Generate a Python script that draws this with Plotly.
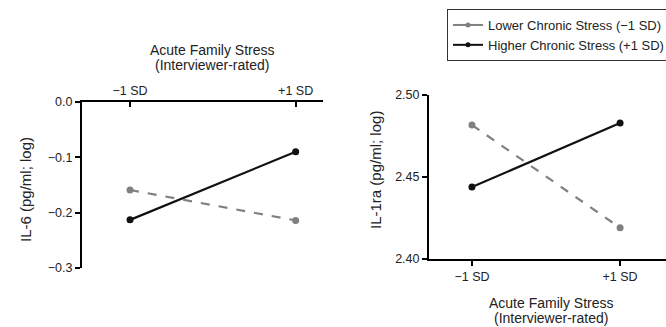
import plotly.graph_objects as go

x_levels = [-1, 1]
x_labels = ["\u22121 SD", "+1 SD"]
series_names = ["Lower Chronic Stress (\u22121 SD)", "Higher Chronic Stress (+1 SD)"]
il6_lower = [-0.159, -0.214]
il6_higher = [-0.213, -0.090]
il1ra_lower = [2.4817, 2.4190]
il1ra_higher = [2.4439, 2.4829]
il6_ticks = [0.0, -0.1, -0.2, -0.3]
il6_ticklabels = ["0.0", "\u22120.1", "\u22120.2", "\u22120.3"]
il1ra_ticks = [2.40, 2.45, 2.50]
il1ra_ticklabels = ["2.40", "2.45", "2.50"]
x_title_lines = ["Acute Family Stress", "(Interviewer-rated)"]
y_titles = ["IL-6 (pg/ml; log)", "IL-1ra (pg/ml; log)"]

W, H = 666, 327
FONT = "Liberation Sans, Arial, sans-serif"
GRAY = "#808080"
BLACK = "#111111"
TXT = "#222222"

def fx(px):
    return px / W

def fy(py):
    return 1 - py / H

fig = go.Figure()

styles = [dict(color=GRAY, dash="dash"), dict(color=BLACK, dash="solid")]

for i, (name, vals) in enumerate(zip(series_names, [il6_lower, il6_higher])):
    fig.add_trace(go.Scatter(
        x=x_levels, y=vals, mode="lines+markers", name=name,
        line=dict(color=styles[i]["color"], width=2.2, dash=styles[i]["dash"]),
        marker=dict(color=styles[i]["color"], size=7),
        xaxis="x", yaxis="y", showlegend=False))

for i, (name, vals) in enumerate(zip(series_names, [il1ra_lower, il1ra_higher])):
    fig.add_trace(go.Scatter(
        x=x_levels, y=vals, mode="lines+markers", name=name,
        line=dict(color=styles[i]["color"], width=2.2, dash=styles[i]["dash"]),
        marker=dict(color=styles[i]["color"], size=7),
        xaxis="x2", yaxis="y2", showlegend=False))

# legend entries (solid short lines, as in the reference)
for i, name in enumerate(series_names):
    fig.add_trace(go.Scatter(
        x=[None], y=[None], mode="lines+markers", name=name,
        line=dict(color=styles[i]["color"], width=2),
        marker=dict(color=styles[i]["color"], size=5),
        xaxis="x2", yaxis="y2", showlegend=True))

tickfont = dict(family=FONT, size=12.5, color=TXT)
axis_common = dict(showgrid=False, zeroline=False, showline=True,
                   linecolor="black", linewidth=2, tickcolor="black",
                   ticklen=5, tickwidth=2, tickfont=tickfont, fixedrange=True,
                   automargin=False)

fig.update_layout(
    width=W, height=H,
    margin=dict(l=0, r=0, t=0, b=0, autoexpand=False),
    paper_bgcolor="white", plot_bgcolor="white",
    font=dict(family=FONT, size=12, color=TXT),
    xaxis=dict(domain=[fx(82), fx(323)], range=[-1.58, 1.33], side="top",
               anchor="y", tickvals=x_levels, ticktext=x_labels,
               ticks="inside", **axis_common),
    yaxis=dict(domain=[fy(268), fy(102)], range=[-0.3, 0.0], anchor="x",
               tickvals=il6_ticks, ticktext=il6_ticklabels,
               ticks="outside", **axis_common),
    xaxis2=dict(domain=[fx(429), 1.0], range=[-1.58, 1.62], anchor="y2",
                tickvals=x_levels, ticktext=x_labels,
                ticks="outside", **axis_common),
    yaxis2=dict(domain=[fy(259), fy(95)], range=[2.40, 2.50], anchor="x2",
                tickvals=il1ra_ticks, ticktext=il1ra_ticklabels,
                ticks="outside", **axis_common),
    legend=dict(xref="container", yref="container",
                x=fx(447), y=fy(9), xanchor="left", yanchor="top",
                bordercolor="#333", borderwidth=1, bgcolor="white",
                font=dict(family=FONT, size=13, color=TXT),
                itemwidth=30, tracegroupgap=0),
    showlegend=True,
)

title_font = dict(family=FONT, size=14, color=TXT)
for line, py in zip(x_title_lines, [50, 65]):
    fig.add_annotation(x=fx(212), y=fy(py), xref="paper", yref="paper",
                       xanchor="center", yanchor="middle",
                       text=line, showarrow=False, font=title_font)
for line, py in zip(x_title_lines, [303, 318]):
    fig.add_annotation(x=fx(551), y=fy(py), xref="paper", yref="paper",
                       xanchor="center", yanchor="middle",
                       text=line, showarrow=False, font=title_font)
fig.add_annotation(x=fx(25), y=fy(190), xref="paper", yref="paper",
                   xanchor="center", yanchor="middle",
                   text=y_titles[0], textangle=-90,
                   showarrow=False, font=dict(family=FONT, size=15, color=TXT))
fig.add_annotation(x=fx(376), y=fy(170), xref="paper", yref="paper",
                   xanchor="center", yanchor="middle",
                   text=y_titles[1], textangle=-90,
                   showarrow=False, font=dict(family=FONT, size=15, color=TXT))

fig.write_html("out.html", config={"displayModeBar": False},
               post_script="document.body.style.margin='0px';")
